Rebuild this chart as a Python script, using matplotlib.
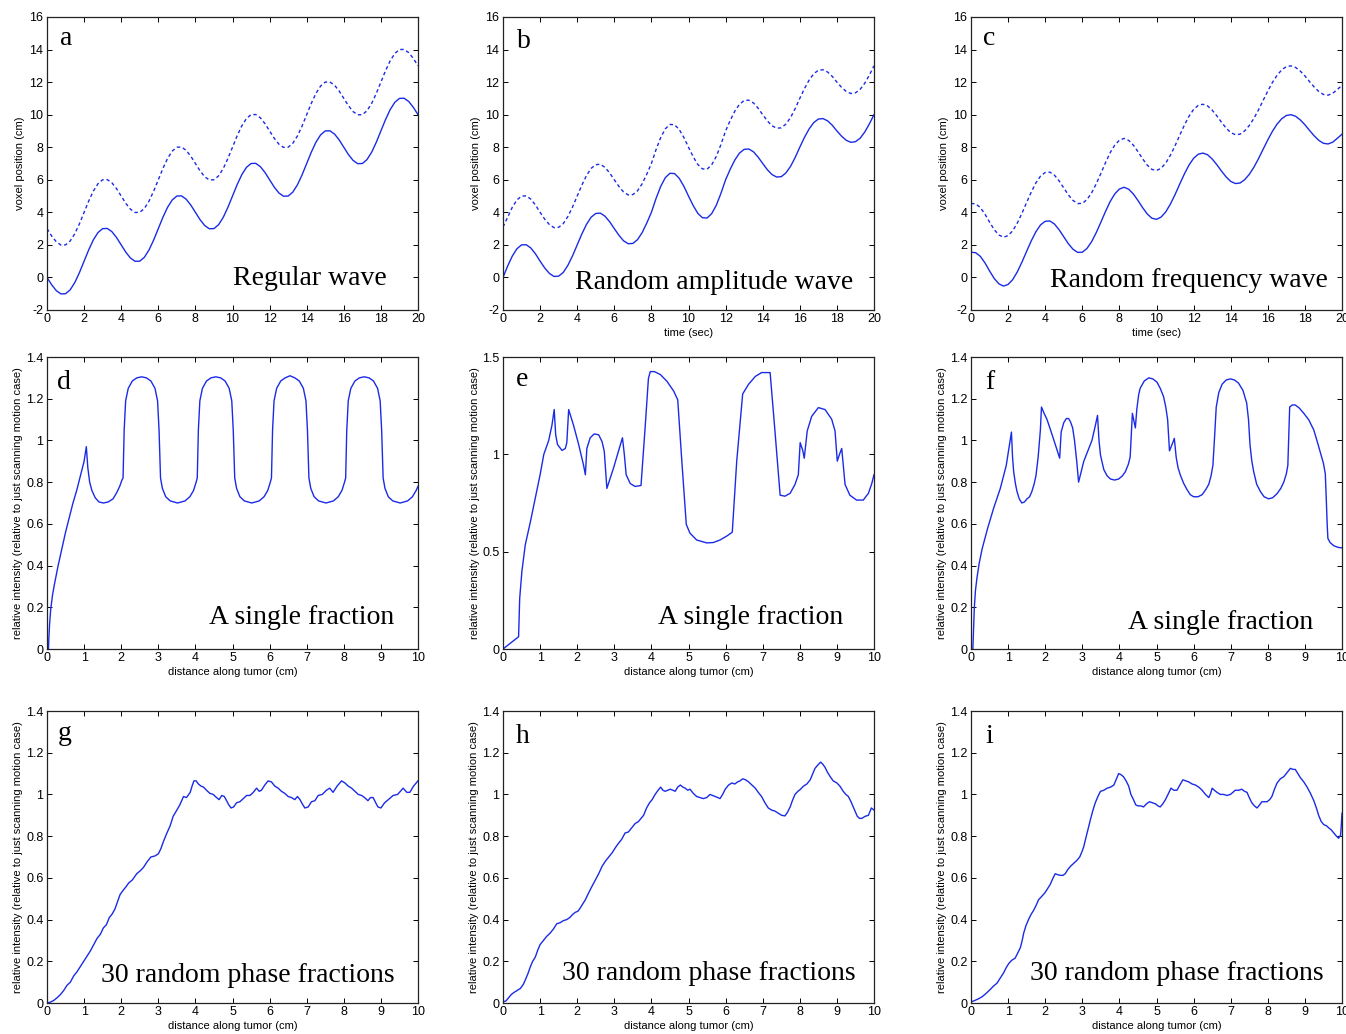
import numpy as np
import matplotlib
matplotlib.use("Agg")
import matplotlib.pyplot as plt
from matplotlib import font_manager

# ---------------- data ----------------
# top row: time grid 0..20 s every 0.25 s
time_s = np.linspace(0, 20, 81)

a_solid = [0, -0.45, -0.81, -1.01, -1.0, -0.76, -0.31, 0.30, 1.0, 1.70, 2.31, 2.76, 3.0, 3.01, 2.81, 2.45,
           2.0, 1.55, 1.19, 0.99, 1.0, 1.24, 1.69, 2.30, 3.0, 3.70, 4.31, 4.76, 5.0, 5.01, 4.81, 4.45,
           4.0, 3.55, 3.19, 2.99, 3.0, 3.24, 3.69, 4.30, 5.0, 5.70, 6.31, 6.76, 7.0, 7.01, 6.81, 6.45,
           6.0, 5.55, 5.19, 4.99, 5.0, 5.24, 5.69, 6.30, 7.0, 7.70, 8.31, 8.76, 9.0, 9.01, 8.81, 8.45,
           8.0, 7.55, 7.19, 6.99, 7.0, 7.24, 7.69, 8.30, 9.0, 9.70, 10.31, 10.76, 11.0, 11.01, 10.81, 10.45,
           10.0]
a_dashed = [3.0, 2.55, 2.19, 1.99, 2.0, 2.24, 2.69, 3.30, 4.0, 4.70, 5.31, 5.76, 6.0, 6.01, 5.81, 5.45,
            5.0, 4.55, 4.19, 3.99, 4.0, 4.24, 4.69, 5.30, 6.0, 6.70, 7.31, 7.76, 8.0, 8.01, 7.81, 7.45,
            7.0, 6.55, 6.19, 5.99, 6.0, 6.24, 6.69, 7.30, 8.0, 8.70, 9.31, 9.76, 10.0, 10.01, 9.81, 9.45,
            9.0, 8.55, 8.19, 7.99, 8.0, 8.24, 8.69, 9.30, 10.0, 10.70, 11.31, 11.76, 12.0, 12.01, 11.81, 11.45,
            11.0, 10.55, 10.19, 9.99, 10.0, 10.24, 10.69, 11.30, 12.0, 12.70, 13.31, 13.76, 14.0, 14.01, 13.81, 13.45,
            13.0]

b_solid = [0, 0.70, 1.31, 1.76, 2.0, 2.01, 1.81, 1.45,
           1.0, 0.58, 0.25, 0.06, 0.08, 0.31, 0.75, 1.33,
           2.0, 2.67, 3.26, 3.70, 3.93, 3.95, 3.76, 3.42,
           3.0, 2.59, 2.25, 2.07, 2.09, 2.32, 2.75, 3.34,
           4.0, 4.85, 5.59, 6.13, 6.40, 6.38, 6.09, 5.60,
           5.0, 4.42, 3.94, 3.67, 3.65, 3.92, 4.44, 5.17,
           6.0, 6.65, 7.22, 7.64, 7.87, 7.89, 7.72, 7.40,
           7.0, 6.62, 6.32, 6.17, 6.19, 6.42, 6.82, 7.37,
           8.0, 8.60, 9.12, 9.51, 9.73, 9.76, 9.62, 9.35,
           9.0, 8.68, 8.43, 8.30, 8.34, 8.55, 8.93, 9.43,
           10.0]
b_dashed = [3.1, 3.70, 4.31, 4.76, 5.0, 5.01, 4.81, 4.45,
            4.0, 3.58, 3.25, 3.06, 3.08, 3.31, 3.75, 4.33,
            5.0, 5.67, 6.26, 6.70, 6.93, 6.95, 6.76, 6.42,
            6.0, 5.59, 5.25, 5.07, 5.09, 5.32, 5.75, 6.34,
            7.0, 7.85, 8.59, 9.13, 9.40, 9.38, 9.09, 8.60,
            8.0, 7.42, 6.94, 6.67, 6.65, 6.92, 7.44, 8.17,
            9.0, 9.65, 10.22, 10.64, 10.87, 10.89, 10.72, 10.40,
            10.0, 9.62, 9.32, 9.17, 9.19, 9.42, 9.82, 10.37,
            11.0, 11.60, 12.12, 12.51, 12.73, 12.76, 12.62, 12.35,
            12.0, 11.68, 11.43, 11.30, 11.34, 11.55, 11.93, 12.43,
            13.0]

c_solid = [1.55, 1.52, 1.30, 0.90, 0.40, -0.06, -0.39, -0.53, -0.43, -0.13, 0.35, 0.95, 1.61, 2.25, 2.81, 3.23,
           3.45, 3.47, 3.28, 2.93, 2.50, 2.07, 1.73, 1.54, 1.55, 1.78, 2.19, 2.75, 3.39, 4.05, 4.66, 5.13,
           5.43, 5.54, 5.42, 5.13, 4.73, 4.29, 3.90, 3.64, 3.57, 3.71, 4.03, 4.51, 5.09, 5.73, 6.35, 6.90,
           7.32, 7.57, 7.64, 7.54, 7.28, 6.93, 6.54, 6.18, 5.90, 5.77, 5.80, 6.00, 6.33, 6.77, 7.30, 7.88,
           8.45, 8.98, 9.42, 9.75, 9.95, 10.00, 9.90, 9.68, 9.38, 9.03, 8.70, 8.42, 8.24, 8.20, 8.31, 8.55,
           8.80]
c_dashed = [4.55, 4.52, 4.30, 3.90, 3.40, 2.94, 2.61, 2.47, 2.57, 2.87, 3.35, 3.95, 4.61, 5.25, 5.81, 6.23,
            6.45, 6.47, 6.28, 5.93, 5.50, 5.07, 4.73, 4.54, 4.55, 4.78, 5.19, 5.75, 6.39, 7.05, 7.66, 8.13,
            8.43, 8.54, 8.42, 8.13, 7.73, 7.29, 6.90, 6.64, 6.57, 6.71, 7.03, 7.51, 8.09, 8.73, 9.35, 9.90,
            10.32, 10.57, 10.64, 10.54, 10.28, 9.93, 9.54, 9.18, 8.90, 8.77, 8.80, 9.00, 9.33, 9.77, 10.30, 10.88,
            11.45, 11.98, 12.42, 12.75, 12.95, 13.00, 12.90, 12.68, 12.38, 12.03, 11.70, 11.42, 11.24, 11.20, 11.31, 11.55,
            11.80]

# middle row: single fraction (distance cm, relative intensity)
d_pts = [(0.04, 0.0), (0.05, 0.05), (0.07, 0.12), (0.1, 0.19), (0.15, 0.26), (0.2, 0.31), (0.3, 0.40),
         (0.4, 0.48), (0.5, 0.56), (0.6, 0.63), (0.7, 0.70), (0.8, 0.76), (0.9, 0.83), (1.0, 0.90), (1.06, 0.97),
         (1.1, 0.87), (1.15, 0.80), (1.21, 0.76), (1.3, 0.725), (1.4, 0.705), (1.52, 0.70), (1.65, 0.705),
         (1.78, 0.72), (1.88, 0.75), (1.96, 0.78), (2.02, 0.81),
         (2.05, 0.82), (2.08, 1.05), (2.12, 1.19), (2.19, 1.25), (2.30, 1.285), (2.42, 1.30), (2.55, 1.305),
         (2.68, 1.30), (2.80, 1.285), (2.91, 1.25), (2.98, 1.19), (3.02, 1.05), (3.06, 0.82), (3.11, 0.77),
         (3.20, 0.73), (3.32, 0.71), (3.52, 0.70), (3.72, 0.71), (3.85, 0.73), (3.95, 0.76), (4.02, 0.80),
         (4.05, 0.82), (4.08, 1.05), (4.12, 1.19), (4.19, 1.25), (4.30, 1.285), (4.42, 1.30), (4.55, 1.305),
         (4.68, 1.30), (4.80, 1.285), (4.91, 1.25), (4.98, 1.19), (5.02, 1.05), (5.06, 0.82), (5.11, 0.77),
         (5.20, 0.73), (5.32, 0.71), (5.52, 0.70), (5.72, 0.71), (5.85, 0.73), (5.95, 0.76), (6.02, 0.80),
         (6.05, 0.82), (6.08, 1.05), (6.12, 1.19), (6.19, 1.25), (6.30, 1.285), (6.42, 1.30), (6.55, 1.31),
         (6.68, 1.30), (6.80, 1.285), (6.91, 1.25), (6.98, 1.19), (7.02, 1.05), (7.06, 0.82), (7.11, 0.77),
         (7.20, 0.73), (7.32, 0.71), (7.52, 0.70), (7.72, 0.71), (7.85, 0.73), (7.95, 0.76), (8.02, 0.80),
         (8.05, 0.82), (8.08, 1.05), (8.12, 1.19), (8.19, 1.25), (8.30, 1.285), (8.42, 1.30), (8.55, 1.305),
         (8.68, 1.30), (8.80, 1.285), (8.91, 1.25), (8.98, 1.19), (9.02, 1.05), (9.06, 0.82), (9.11, 0.77),
         (9.20, 0.73), (9.32, 0.71), (9.52, 0.70), (9.72, 0.71), (9.85, 0.73), (9.95, 0.76), (10.0, 0.78)]

e_pts = [(0.0, 0.0), (0.42, 0.063), (0.45, 0.26), (0.51, 0.40), (0.6, 0.535), (0.74, 0.655), (0.87, 0.775),
         (1.0, 0.895), (1.1, 1.0), (1.23, 1.07), (1.32, 1.15), (1.38, 1.23), (1.42, 1.10), (1.47, 1.05),
         (1.59, 1.02), (1.68, 1.03), (1.72, 1.06), (1.77, 1.23), (1.9, 1.15), (2.04, 1.05), (2.17, 0.945),
         (2.22, 0.895), (2.26, 1.03), (2.35, 1.085), (2.46, 1.105), (2.58, 1.10), (2.67, 1.065), (2.73, 1.015),
         (2.8, 0.825), (2.98, 0.93), (3.11, 1.015), (3.22, 1.085), (3.27, 1.0), (3.32, 0.895), (3.43, 0.85),
         (3.56, 0.835), (3.72, 0.84), (3.83, 1.135), (3.92, 1.39), (3.97, 1.425), (4.08, 1.425), (4.24, 1.41),
         (4.42, 1.375), (4.6, 1.325), (4.71, 1.28), (4.82, 0.965), (4.94, 0.64), (5.04, 0.595), (5.22, 0.56),
         (5.49, 0.545), (5.67, 0.547), (5.85, 0.56), (6.03, 0.58), (6.18, 0.60), (6.3, 0.965), (6.46, 1.31),
         (6.62, 1.36), (6.8, 1.40), (6.97, 1.42), (7.2, 1.42), (7.33, 1.12), (7.47, 0.79), (7.6, 0.785),
         (7.74, 0.80), (7.87, 0.845), (7.96, 0.895), (8.01, 1.06), (8.08, 1.02), (8.12, 0.98), (8.2, 1.12),
         (8.32, 1.195), (8.5, 1.24), (8.68, 1.23), (8.86, 1.18), (8.95, 1.12), (9.01, 0.965), (9.07, 1.0),
         (9.13, 1.03), (9.22, 0.845), (9.35, 0.79), (9.53, 0.765), (9.71, 0.765), (9.85, 0.80), (9.94, 0.85),
         (10.0, 0.895)]

f_pts = [(0.05, 0.0), (0.07, 0.10), (0.09, 0.20), (0.12, 0.28), (0.16, 0.34), (0.22, 0.41), (0.3, 0.48),
         (0.45, 0.58), (0.61, 0.675), (0.79, 0.77), (0.95, 0.88), (1.09, 1.04), (1.12, 0.92), (1.15, 0.85),
         (1.2, 0.79), (1.24, 0.755), (1.3, 0.72), (1.37, 0.70), (1.44, 0.705), (1.51, 0.72), (1.58, 0.73),
         (1.64, 0.755), (1.7, 0.79), (1.75, 0.83), (1.81, 0.92), (1.87, 1.05), (1.9, 1.16), (1.97, 1.13),
         (2.05, 1.10), (2.2, 1.02), (2.39, 0.915), (2.43, 1.04), (2.5, 1.085), (2.57, 1.105), (2.63, 1.105),
         (2.68, 1.09), (2.74, 1.06), (2.79, 1.0), (2.85, 0.90), (2.9, 0.80), (3.04, 0.90), (3.15, 0.95),
         (3.26, 1.0), (3.35, 1.07), (3.41, 1.12), (3.45, 1.0), (3.49, 0.93), (3.58, 0.86), (3.67, 0.83),
         (3.76, 0.815), (3.87, 0.81), (3.98, 0.815), (4.08, 0.83), (4.16, 0.85), (4.24, 0.885), (4.29, 0.92),
         (4.35, 1.13), (4.43, 1.06), (4.47, 1.15), (4.52, 1.22), (4.56, 1.25), (4.67, 1.285), (4.79, 1.30),
         (4.9, 1.295), (5.01, 1.28), (5.1, 1.25), (5.19, 1.21), (5.25, 1.16), (5.3, 1.10), (5.35, 0.95),
         (5.44, 0.99), (5.48, 1.01), (5.53, 0.92), (5.58, 0.87), (5.64, 0.835), (5.73, 0.795), (5.82, 0.765),
         (5.91, 0.74), (6.0, 0.73), (6.12, 0.73), (6.23, 0.74), (6.33, 0.765), (6.41, 0.79), (6.47, 0.83),
         (6.52, 0.88), (6.56, 1.0), (6.61, 1.16), (6.68, 1.23), (6.77, 1.27), (6.88, 1.29), (6.99, 1.295),
         (7.1, 1.29), (7.21, 1.275), (7.33, 1.24), (7.43, 1.18), (7.48, 1.10), (7.52, 0.98), (7.57, 0.90),
         (7.62, 0.85), (7.7, 0.79), (7.8, 0.755), (7.9, 0.73), (8.02, 0.72), (8.13, 0.725), (8.25, 0.745),
         (8.35, 0.77), (8.43, 0.80), (8.5, 0.84), (8.54, 0.88), (8.59, 1.16), (8.66, 1.17), (8.74, 1.17),
         (8.85, 1.155), (8.97, 1.13), (9.1, 1.10), (9.24, 1.05), (9.34, 0.99), (9.42, 0.94), (9.5, 0.89),
         (9.55, 0.84), (9.58, 0.70), (9.6, 0.60), (9.62, 0.53), (9.68, 0.51), (9.78, 0.495), (9.9, 0.487),
         (10.0, 0.485)]

# bottom row: 30 random phase fractions
g_pts = [(0, 0.0), (0.1, 0.005), (0.18, 0.012), (0.27, 0.025), (0.36, 0.04), (0.45, 0.06), (0.54, 0.085),
         (0.63, 0.10), (0.72, 0.13), (0.81, 0.15), (0.9, 0.175), (0.99, 0.20), (1.08, 0.225), (1.17, 0.25),
         (1.26, 0.28), (1.35, 0.31), (1.44, 0.33), (1.52, 0.36), (1.6, 0.375), (1.68, 0.41), (1.75, 0.425),
         (1.83, 0.45), (1.9, 0.485), (1.97, 0.52), (2.05, 0.54), (2.12, 0.555), (2.2, 0.575), (2.3, 0.59),
         (2.42, 0.62), (2.52, 0.635), (2.6, 0.65), (2.69, 0.675), (2.8, 0.70), (2.91, 0.705), (3.0, 0.715),
         (3.07, 0.74), (3.14, 0.775), (3.22, 0.81), (3.32, 0.85), (3.4, 0.895), (3.5, 0.925), (3.58, 0.95),
         (3.68, 0.99), (3.76, 0.985), (3.86, 1.01), (3.91, 1.04), (3.96, 1.065), (4.02, 1.065), (4.08, 1.05),
         (4.15, 1.04), (4.22, 1.035), (4.3, 1.02), (4.39, 1.005), (4.48, 1.0), (4.57, 0.985), (4.64, 0.975),
         (4.71, 0.995), (4.78, 0.99), (4.84, 0.97), (4.9, 0.95), (4.96, 0.935), (5.03, 0.94), (5.11, 0.96),
         (5.2, 0.965), (5.29, 0.98), (5.38, 0.995), (5.47, 0.995), (5.56, 1.01), (5.65, 1.03), (5.72, 1.015),
         (5.78, 1.02), (5.87, 1.045), (5.96, 1.065), (6.05, 1.06), (6.14, 1.04), (6.23, 1.03), (6.32, 1.015),
         (6.41, 1.005), (6.5, 0.99), (6.59, 0.985), (6.68, 0.975), (6.75, 0.99), (6.82, 0.975), (6.88, 0.955),
         (6.95, 0.935), (7.04, 0.94), (7.13, 0.965), (7.22, 0.97), (7.31, 0.995), (7.42, 1.0), (7.53, 1.02),
         (7.62, 1.03), (7.71, 1.01), (7.82, 1.04), (7.94, 1.065), (8.03, 1.055), (8.12, 1.04), (8.21, 1.03),
         (8.3, 1.015), (8.39, 1.0), (8.48, 0.995), (8.56, 0.985), (8.65, 0.97), (8.72, 0.985), (8.79, 0.985),
         (8.86, 0.96), (8.92, 0.94), (9.0, 0.935), (9.1, 0.96), (9.2, 0.975), (9.33, 0.995), (9.45, 1.0),
         (9.6, 1.03), (9.7, 1.01), (9.78, 1.01), (9.88, 1.04), (10.0, 1.065)]

h_pts = [(0, 0.005), (0.08, 0.01), (0.15, 0.025), (0.22, 0.04), (0.29, 0.05), (0.38, 0.06), (0.47, 0.07),
         (0.55, 0.09), (0.6, 0.11), (0.67, 0.14), (0.74, 0.175), (0.8, 0.2), (0.87, 0.22), (0.94, 0.255),
         (1.0, 0.28), (1.09, 0.3), (1.18, 0.32), (1.27, 0.335), (1.36, 0.355), (1.45, 0.38), (1.54, 0.385),
         (1.63, 0.395), (1.72, 0.4), (1.8, 0.41), (1.88, 0.425), (1.95, 0.435), (2.02, 0.44), (2.08, 0.455),
         (2.15, 0.475), (2.22, 0.495), (2.3, 0.525), (2.4, 0.56), (2.49, 0.59), (2.58, 0.62), (2.67, 0.655),
         (2.76, 0.68), (2.85, 0.70), (2.94, 0.72), (3.03, 0.745), (3.11, 0.765), (3.2, 0.785), (3.29, 0.815),
         (3.38, 0.82), (3.47, 0.84), (3.56, 0.86), (3.65, 0.87), (3.72, 0.885), (3.79, 0.90), (3.87, 0.935),
         (3.95, 0.96), (4.02, 0.975), (4.1, 1.0), (4.18, 1.02), (4.25, 1.035), (4.31, 1.02), (4.37, 1.015),
         (4.44, 1.02), (4.51, 1.025), (4.58, 1.02), (4.64, 1.015), (4.71, 1.035), (4.78, 1.045), (4.85, 1.035),
         (4.91, 1.03), (4.98, 1.02), (5.04, 1.025), (5.13, 1.005), (5.22, 0.99), (5.31, 0.985), (5.4, 0.98),
         (5.49, 0.985), (5.58, 1.0), (5.65, 0.995), (5.72, 0.99), (5.79, 0.985), (5.85, 0.98), (5.92, 1.0),
         (5.99, 1.025), (6.08, 1.045), (6.17, 1.055), (6.25, 1.05), (6.32, 1.06), (6.39, 1.065), (6.46, 1.075),
         (6.54, 1.07), (6.62, 1.06), (6.71, 1.045), (6.8, 1.03), (6.88, 1.01), (6.97, 0.99), (7.06, 0.96),
         (7.15, 0.935), (7.24, 0.925), (7.33, 0.92), (7.42, 0.91), (7.51, 0.90), (7.6, 0.897), (7.67, 0.915),
         (7.74, 0.94), (7.8, 0.97), (7.87, 1.0), (7.95, 1.015), (8.02, 1.025), (8.1, 1.04), (8.19, 1.05),
         (8.28, 1.07), (8.35, 1.10), (8.41, 1.125), (8.48, 1.14), (8.56, 1.155), (8.62, 1.145), (8.68, 1.13),
         (8.75, 1.105), (8.82, 1.085), (8.9, 1.065), (9.0, 1.055), (9.08, 1.04), (9.17, 1.015), (9.24, 1.0),
         (9.31, 0.99), (9.38, 0.965), (9.44, 0.94), (9.5, 0.915), (9.55, 0.895), (9.61, 0.885), (9.67, 0.885),
         (9.76, 0.895), (9.85, 0.90), (9.93, 0.935), (10.0, 0.925)]

i_pts = [(0, 0.005), (0.1, 0.012), (0.2, 0.02), (0.3, 0.03), (0.4, 0.045), (0.52, 0.065), (0.6, 0.08),
         (0.7, 0.095), (0.79, 0.12), (0.88, 0.145), (0.95, 0.17), (1.02, 0.19), (1.1, 0.205), (1.19, 0.215),
         (1.26, 0.24), (1.33, 0.265), (1.38, 0.30), (1.42, 0.335), (1.48, 0.37), (1.55, 0.40), (1.62, 0.425),
         (1.69, 0.445), (1.76, 0.47), (1.82, 0.495), (1.9, 0.51), (2.0, 0.53), (2.07, 0.55), (2.14, 0.57),
         (2.2, 0.595), (2.27, 0.62), (2.34, 0.615), (2.41, 0.612), (2.48, 0.612), (2.54, 0.62), (2.61, 0.64),
         (2.68, 0.655), (2.77, 0.67), (2.86, 0.685), (2.93, 0.70), (2.99, 0.725), (3.04, 0.75), (3.08, 0.78),
         (3.15, 0.83), (3.22, 0.88), (3.28, 0.92), (3.35, 0.96), (3.42, 0.99), (3.49, 1.015), (3.58, 1.02),
         (3.67, 1.03), (3.76, 1.035), (3.85, 1.045), (3.92, 1.075), (3.98, 1.10), (4.04, 1.095), (4.11, 1.085),
         (4.18, 1.065), (4.25, 1.04), (4.31, 1.0), (4.38, 0.975), (4.44, 0.95), (4.5, 0.945), (4.58, 0.945),
         (4.65, 0.94), (4.73, 0.955), (4.81, 0.965), (4.89, 0.96), (4.97, 0.955), (5.04, 0.945), (5.1, 0.94),
         (5.17, 0.955), (5.24, 0.975), (5.31, 1.0), (5.39, 1.03), (5.47, 1.02), (5.55, 1.02), (5.63, 1.045),
         (5.71, 1.07), (5.79, 1.065), (5.87, 1.06), (5.96, 1.05), (6.05, 1.045), (6.14, 1.035), (6.23, 1.02),
         (6.32, 1.0), (6.41, 0.985), (6.46, 1.005), (6.5, 1.03), (6.56, 1.02), (6.63, 1.01), (6.72, 1.0),
         (6.81, 1.0), (6.9, 0.995), (6.99, 1.0), (7.06, 1.01), (7.12, 1.02), (7.21, 1.02), (7.3, 1.025),
         (7.37, 1.015), (7.44, 1.01), (7.5, 0.985), (7.57, 0.96), (7.64, 0.945), (7.71, 0.935), (7.78, 0.95),
         (7.84, 0.965), (7.91, 0.965), (7.98, 0.965), (8.05, 0.975), (8.11, 0.99), (8.18, 1.025), (8.25, 1.055),
         (8.34, 1.075), (8.43, 1.085), (8.52, 1.105), (8.61, 1.125), (8.68, 1.12), (8.74, 1.12), (8.81, 1.10),
         (8.88, 1.08), (8.97, 1.06), (9.06, 1.035), (9.15, 1.005), (9.24, 0.97), (9.31, 0.935), (9.37, 0.90),
         (9.44, 0.87), (9.51, 0.855), (9.58, 0.85), (9.64, 0.84), (9.71, 0.83), (9.78, 0.815), (9.85, 0.80),
         (9.91, 0.79), (9.94, 0.80), (9.96, 0.80), (9.98, 0.85), (10.0, 0.91)]

# tick labels
top_xticks = [0, 2, 4, 6, 8, 10, 12, 14, 16, 18, 20]
top_yticks = [-2, 0, 2, 4, 6, 8, 10, 12, 14, 16]
dist_xticks = [0, 1, 2, 3, 4, 5, 6, 7, 8, 9, 10]
int_yticks = [0, 0.2, 0.4, 0.6, 0.8, 1.0, 1.2, 1.4]
int_yticklabels = ["0", "0.2", "0.4", "0.6", "0.8", "1", "1.2", "1.4"]
e_yticks = [0, 0.5, 1.0, 1.5]
e_yticklabels = ["0", "0.5", "1", "1.5"]

panel_letters = ["a", "b", "c", "d", "e", "f", "g", "h", "i"]
panel_titles = ["Regular wave", "Random amplitude wave", "Random frequency wave",
                "A single fraction", "A single fraction", "A single fraction",
                "30 random phase fractions", "30 random phase fractions", "30 random phase fractions"]

# ---------------- layout ----------------
W, H = 1346, 1034
fig = plt.figure(figsize=(W / 100, H / 100), dpi=100)
fig.patch.set_facecolor("white")

lefts = [47, 503, 971]
tops = [17, 357, 711]
heights = [293, 292, 292]
AXW = 371

BLUE = "#1a2be6"
SANS = "Liberation Sans"
SERIF = "Liberation Serif"
installed = {f.name for f in font_manager.fontManager.ttflist}
TICKFONT = ["Liberation Sans Narrow", "Liberation Sans"] if "Liberation Sans Narrow" in installed else ["Liberation Sans"]
TICKSIZE = 9.5 if "Liberation Sans Narrow" in installed else 9

# (x_frac_right, y_frac_baseline) for the big labels; (x,y) for letters
title_pos = [(0.916, 0.085), (0.943, 0.07), (0.962, 0.078),
             (0.935, 0.085), (0.916, 0.085), (0.922, 0.068),
             (0.938, 0.072), (0.951, 0.079), (0.951, 0.079)]
letter_pos = [(0.035, 0.905), (0.038, 0.895), (0.033, 0.905),
              (0.028, 0.89), (0.035, 0.90), (0.038, 0.89),
              (0.030, 0.90), (0.035, 0.89), (0.038, 0.89)]


def style(ax, xticks, yticks, ylabels=None):
    ax.set_xticks(xticks)
    ax.set_xticklabels([str(v) for v in xticks])
    ax.set_yticks(yticks)
    if ylabels is not None:
        ax.set_yticklabels(ylabels)
    else:
        ax.set_yticklabels([str(v) for v in yticks])
    ax.tick_params(direction="in", length=3.5, width=0.7, top=True, right=True,
                   labelsize=TICKSIZE, pad=2.5, colors="black")
    for lab in ax.get_xticklabels() + ax.get_yticklabels():
        lab.set_family(TICKFONT)
    for sp in ax.spines.values():
        sp.set_linewidth(0.9)
        sp.set_color("#222222")


axes = []
for r in range(3):
    for c in range(3):
        l = lefts[c]
        t = tops[r]
        h = heights[r]
        ax = fig.add_axes([l / W, 1 - (t + h) / H, AXW / W, h / H])
        axes.append(ax)

# top row
top_data = [(a_solid, a_dashed), (b_solid, b_dashed), (c_solid, c_dashed)]
for k in range(3):
    ax = axes[k]
    s, d = top_data[k]
    ax.plot(time_s, s, color=BLUE, lw=1.0)
    ax.plot(time_s, d, color=BLUE, lw=1.0, linestyle=(0, (2.5, 2)))
    ax.set_xlim(0, 20)
    ax.set_ylim(-2, 16)
    style(ax, top_xticks, top_yticks)
    ax.set_ylabel("voxel position (cm)", family=SANS, fontsize=8, labelpad=3)
    if k > 0:
        ax.set_xlabel("time (sec)", family=SANS, fontsize=8, labelpad=1.5)

# middle & bottom rows
lower = [d_pts, e_pts, f_pts, g_pts, h_pts, i_pts]
for k, pts in enumerate(lower):
    ax = axes[3 + k]
    xs = [p[0] for p in pts]
    ys = [p[1] for p in pts]
    ax.plot(xs, ys, color=BLUE, lw=1.0)
    ax.set_xlim(0, 10)
    if k == 1:
        ax.set_ylim(0, 1.5)
        style(ax, dist_xticks, e_yticks, e_yticklabels)
    else:
        ax.set_ylim(0, 1.4)
        style(ax, dist_xticks, int_yticks, int_yticklabels)
    ax.set_ylabel("relative intensity (relative to just scanning motion case)",
                  family=SANS, fontsize=8, labelpad=2)
    ax.set_xlabel("distance along tumor (cm)", family=SANS, fontsize=8, labelpad=1.5)

for k, ax in enumerate(axes):
    lx, ly = letter_pos[k]
    ax.text(lx, ly, panel_letters[k], transform=ax.transAxes, family=SERIF,
            fontsize=20, ha="left", va="baseline")
    tx, ty = title_pos[k]
    ax.text(tx, ty, panel_titles[k], transform=ax.transAxes, family=SERIF,
            fontsize=20, ha="right", va="baseline")

fig.savefig("out.png", dpi=100, facecolor="white")
